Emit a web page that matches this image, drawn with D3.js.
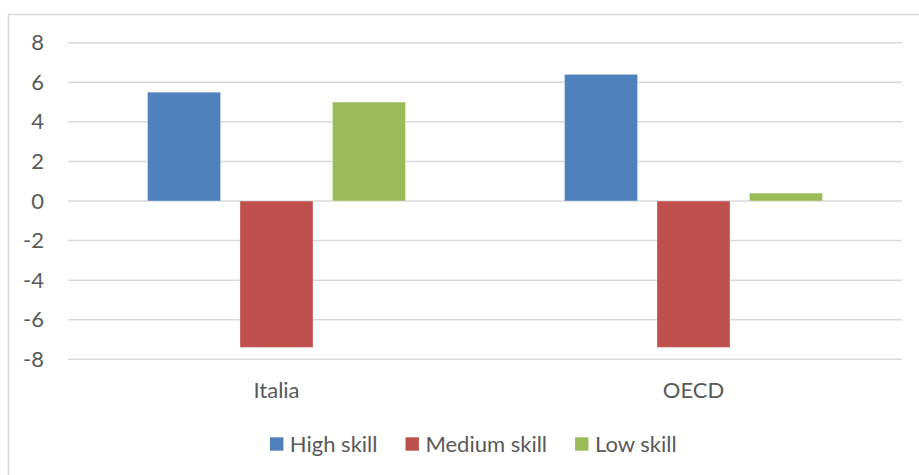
<!DOCTYPE html>
<html>
<head>
<meta charset="utf-8">
<script src="https://cdn.jsdelivr.net/npm/d3@7/dist/d3.min.js"></script>
<style>
  html, body { margin: 0; padding: 0; background: #fff; }
  svg { display: block; }
  text { font-family: Lato, "Open Sans", sans-serif; fill: #595959; }
</style>
</head>
<body>
<svg id="chart" width="919" height="475"></svg>
<script>
// Change in employment share by skill level
const categories = ["Italia", "OECD"];
const series = ["High skill", "Medium skill", "Low skill"];
const highSkill = [5.5, 6.4];
const mediumSkill = [-7.4, -7.4];
const lowSkill = [5.0, 0.4];
const yTicks = [-8, -6, -4, -2, 0, 2, 4, 6, 8];
const colors = ["#4F81BD", "#C0504D", "#9BBB59"];

const values = [highSkill, mediumSkill, lowSkill];
const rows = categories.map((c, i) => ({
  category: c,
  bars: series.map((s, j) => ({ series: s, value: values[j][i], color: colors[j] }))
}));

const svg = d3.select("#chart");
const plot = { left: 68, right: 902, top: 42.7, bottom: 359.3 };
const fontSize = 22;

// outer chart frame
svg.append("rect")
  .attr("x", 8.5).attr("y", 14.5)
  .attr("width", 1000).attr("height", 1000)
  .attr("fill", "none").attr("stroke", "#d9d9d9").attr("stroke-width", 1.5);

const x0 = d3.scaleBand().domain(categories).range([plot.left, plot.right]);
const x1 = d3.scaleBand().domain(series).range([0, x0.bandwidth()])
  .paddingInner(0.21).paddingOuter(0.86);
const y = d3.scaleLinear().domain([-8, 8]).range([plot.bottom, plot.top]);

// horizontal gridlines
svg.append("g")
  .selectAll("line")
  .data(yTicks)
  .join("line")
  .attr("x1", plot.left).attr("x2", plot.right)
  .attr("y1", d => y(d)).attr("y2", d => y(d))
  .attr("stroke", "#d9d9d9").attr("stroke-width", 1.5);

// y axis labels
const yAxis = d3.axisLeft(y).tickValues(yTicks).tickFormat(d => String(d)).tickSize(0).tickPadding(0);
const yg = svg.append("g").attr("transform", "translate(44,0)").call(yAxis);
yg.select(".domain").remove();
yg.selectAll("text")
  .attr("font-size", fontSize)
  .style("font-family", "Lato, 'Open Sans', sans-serif")
  .attr("fill", "#595959");

// bars
const groups = svg.append("g")
  .selectAll("g")
  .data(rows)
  .join("g")
  .attr("transform", d => `translate(${x0(d.category)},0)`);

groups.selectAll("rect")
  .data(d => d.bars)
  .join("rect")
  .attr("x", d => x1(d.series))
  .attr("width", x1.bandwidth())
  .attr("y", d => y(Math.max(0, d.value)))
  .attr("height", d => Math.abs(y(d.value) - y(0)))
  .attr("fill", d => d.color)
  .attr("stroke", "rgba(255,255,255,0.35)")
  .attr("stroke-width", 1);

// category labels
const xAxis = d3.axisBottom(x0).tickSize(0).tickPadding(0);
const xg = svg.append("g").attr("transform", "translate(0,397.5)").call(xAxis);
xg.select(".domain").remove();
xg.selectAll("text")
  .attr("dy", 0)
  .attr("y", 0)
  .attr("font-size", fontSize)
  .style("font-family", "Lato, 'Open Sans', sans-serif")
  .attr("fill", "#595959");

// legend, centred under the chart
const legend = svg.append("g");
const sq = 13.4, textGap = 6.5, itemGap = 28;
const items = legend.selectAll("g")
  .data(series.map((s, j) => ({ name: s, color: colors[j] })))
  .join("g");
items.append("rect")
  .attr("width", sq).attr("height", sq)
  .attr("y", 437.3)
  .attr("fill", d => d.color);
items.append("text")
  .attr("x", sq + textGap)
  .attr("y", 451.5)
  .attr("font-size", fontSize)
  .text(d => d.name);

let widths = [];
items.each(function () {
  widths.push(sq + textGap + d3.select(this).select("text").node().getComputedTextLength());
});
const total = d3.sum(widths) + itemGap * (widths.length - 1);
let cx = 473.3 - total / 2;
items.attr("transform", (d, i) => {
  const t = `translate(${cx},0)`;
  cx += widths[i] + itemGap;
  return t;
});
</script>
</body>
</html>
